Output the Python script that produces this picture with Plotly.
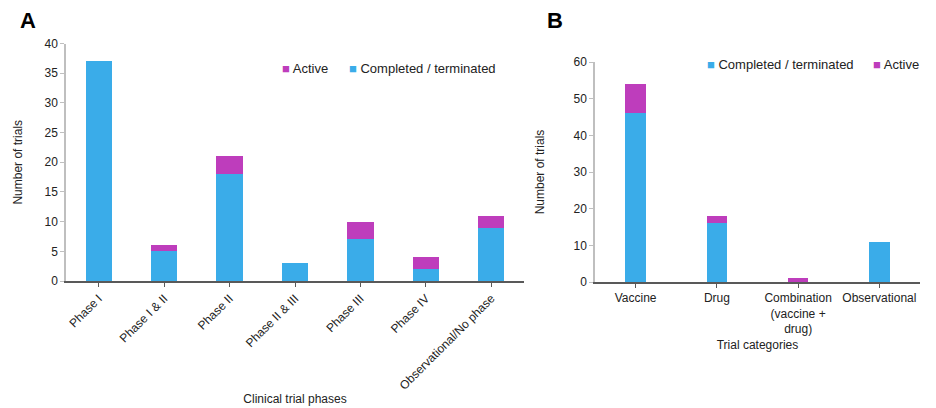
import plotly.graph_objects as go

# Panel A data
phases = ['Phase I', 'Phase I & II', 'Phase II', 'Phase II & III',
          'Phase III', 'Phase IV', 'Observational/No phase']
phase_completed = [37, 5, 18, 3, 7, 2, 9]
phase_active = [0, 1, 3, 0, 3, 2, 2]

# Panel B data
categories = ['Vaccine', 'Drug', 'Combination<br>(vaccine +<br>drug)', 'Observational']
cat_completed = [46, 16, 0, 11]
cat_active = [8, 2, 1, 0]

BLUE = '#3AACE9'
MAGENTA = '#BE3DBC'
FONT = 'Liberation Sans, Arial, sans-serif'
W, H = 936, 408
OFF = 8  # page body margin


def px_x(v):
    return (v - OFF) / W


def px_y(v):
    return 1 - (v - OFF) / H


fig = go.Figure()

fig.add_trace(go.Bar(x=phases, y=phase_completed, name='Completed / terminated',
                     marker_color=BLUE, width=0.4, xaxis='x', yaxis='y'))
fig.add_trace(go.Bar(x=phases, y=phase_active, name='Active',
                     marker_color=MAGENTA, width=0.4, xaxis='x', yaxis='y'))
fig.add_trace(go.Bar(x=categories, y=cat_completed, name='Completed / terminated',
                     marker_color=BLUE, width=0.25, xaxis='x2', yaxis='y2'))
fig.add_trace(go.Bar(x=categories, y=cat_active, name='Active',
                     marker_color=MAGENTA, width=0.25, xaxis='x2', yaxis='y2'))

fig.update_traces(marker_line_width=0, showlegend=False)

tick_font = dict(family=FONT, size=12, color='#222')
title_font = dict(family=FONT, size=12, color='#222')


def xax(domain, anchor, title, standoff, angle):
    return dict(domain=domain, anchor=anchor, automargin=False, showline=True,
                linecolor='#595959', linewidth=1.5, ticks='outside', ticklen=4,
                tickcolor='#595959', tickangle=angle, tickfont=tick_font,
                showgrid=False, zeroline=False,
                title=dict(text=title, font=title_font, standoff=standoff))


def yax(domain, anchor, rng, dtick, standoff):
    return dict(domain=domain, anchor=anchor, automargin=False, range=rng, dtick=dtick,
                showline=True, linecolor='#BFBFBF', linewidth=1.5, ticks='outside',
                ticklen=4, tickcolor='#BFBFBF', tickfont=tick_font, showgrid=False,
                zeroline=False,
                title=dict(text='Number of trials', font=title_font, standoff=standoff))


def legend_item(label, color, x, y):
    return dict(text=f'<span style="color:{color}">■</span> {label}',
                x=px_x(x), y=px_y(y), xref='paper', yref='paper',
                xanchor='left', yanchor='middle', showarrow=False,
                font=dict(family=FONT, size=13, color='#222'))


fig.update_layout(
    template='none',
    width=W, height=H,
    margin=dict(l=0, r=0, t=0, b=0),
    barmode='stack',
    plot_bgcolor='white', paper_bgcolor='white',
    font=dict(family=FONT, size=12, color='#222'),
    showlegend=False,
    xaxis=xax([px_x(66), px_x(524)], 'y', 'Clinical trial phases', 3, -45),
    yaxis=yax([px_y(281), px_y(43.5)], 'x', [0, 40], 5, 19),
    xaxis2=xax([px_x(595), px_x(920)], 'y2', 'Trial categories', 5, 0),
    yaxis2=yax([px_y(282), px_y(62)], 'x2', [0, 60], 10, 26),
    annotations=[
        dict(text='<b>A</b>', x=px_x(27.5), y=px_y(20), xref='paper', yref='paper',
             xanchor='center', yanchor='middle', showarrow=False,
             font=dict(family=FONT, size=22, color='#000')),
        dict(text='<b>B</b>', x=px_x(554.5), y=px_y(20), xref='paper', yref='paper',
             xanchor='center', yanchor='middle', showarrow=False,
             font=dict(family=FONT, size=22, color='#000')),
        legend_item('Active', MAGENTA, 280, 68),
        legend_item('Completed / terminated', BLUE, 347, 68),
        legend_item('Completed / terminated', BLUE, 705, 65),
        legend_item('Active', MAGENTA, 871, 65),
    ],
)

fig.write_html('out.html')
